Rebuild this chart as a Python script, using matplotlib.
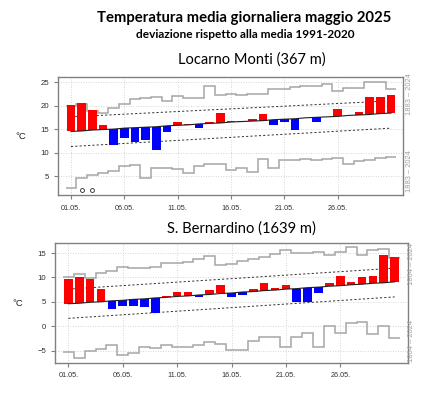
import numpy as np
import matplotlib
matplotlib.use("Agg")
import matplotlib.pyplot as plt

# ---------------- data ----------------
days = list(range(1, 32))
tick_days = [1, 6, 11, 16, 21, 26]
tick_labels = ["01.05.", "06.05.", "11.05.", "16.05.", "21.05.", "26.05."]

title_main = "Temperatura media giornaliera maggio 2025"
title_sub = "deviazione rispetto alla media 1991-2020"

# Locarno Monti
loc_name = "Locarno Monti (367 m)"
loc_period = "1883 – 2024"
loc_temp = [20.2, 20.5, 19.0, 15.8, 11.7, 13.1, 12.2, 12.75, 10.6, 14.3,
            16.4, 16.1, 15.2, 16.6, 18.4, 16.7, 16.75, 17.2, 18.15, 15.8,
            16.5, 14.85, 17.45, 16.5, 17.65, 19.2, 18.0, 18.7, 21.9, 21.9, 22.15]
loc_norm = [14.5, 14.6, 14.8, 14.9, 15.0, 15.2, 15.3, 15.4, 15.5, 15.7,
            15.8, 15.9, 16.1, 16.2, 16.3, 16.5, 16.6, 16.7, 16.8, 17.0,
            17.1, 17.2, 17.4, 17.5, 17.6, 17.7, 17.9, 18.0, 18.1, 18.3, 18.4]
loc_upper = [17.6, 21.0]   # dashed band, day 1 -> day 31
loc_lower = [11.3, 15.2]
loc_rmax = [20.0, 20.3, 18.8, 18.5, 19.5, 20.4, 21.4, 21.65, 21.9, 21.0,
            22.0, 21.7, 21.7, 24.05, 22.2, 22.4, 22.2, 22.4, 22.5, 23.5,
            23.6, 23.9, 24.1, 24.1, 24.5, 23.1, 23.8, 23.8, 25.0, 25.0, 23.5]
loc_rmin = [2.4, 4.7, 5.2, 5.6, 6.1, 7.1, 7.4, 4.7, 6.7, 6.65,
            6.6, 5.6, 7.1, 7.6, 7.6, 6.3, 6.7, 5.95, 8.55, 6.8,
            8.5, 8.5, 8.6, 8.4, 8.6, 8.9, 7.5, 8.2, 8.5, 8.9, 9.0]
loc_circle_days = [2, 3]
loc_circle_vals = [2.0, 2.0]
loc_yticks = [5, 10, 15, 20, 25]
loc_ylim = (1.0, 26.0)

# S. Bernardino
sb_name = "S. Bernardino (1639 m)"
sb_period = "1864 – 2024"
sb_temp = [9.6, 10.1, 9.7, 7.6, 3.5, 4.2, 4.05, 4.0, 2.75, 6.1,
           7.0, 7.0, 6.0, 7.4, 8.4, 5.9, 6.45, 7.6, 8.85, 7.8,
           8.5, 4.95, 4.9, 6.9, 8.9, 10.35, 9.05, 10.15, 10.2, 14.5, 14.1]
sb_norm = [4.6, 4.7, 4.9, 5.0, 5.2, 5.3, 5.5, 5.6, 5.8, 5.9,
           6.1, 6.2, 6.4, 6.5, 6.7, 6.8, 7.0, 7.1, 7.3, 7.4,
           7.6, 7.7, 7.9, 8.0, 8.2, 8.3, 8.5, 8.6, 8.8, 8.9, 9.1]
sb_upper = [7.6, 11.9]
sb_lower = [1.6, 6.0]
sb_rmax = [10.1, 10.8, 9.95, 10.85, 11.3, 12.15, 11.85, 12.0, 12.15, 12.9,
           12.95, 13.25, 13.85, 14.35, 12.6, 12.75, 13.3, 13.8, 14.1, 14.8,
           15.65, 15.1, 15.1, 15.3, 14.6, 15.15, 16.2, 14.6, 15.6, 15.85, 13.9]
sb_rmin = [-5.35, -6.6, -5.15, -4.6, -3.95, -5.85, -5.5, -4.25, -4.55, -3.8,
           -4.3, -4.35, -3.85, -3.35, -3.7, -4.8, -4.8, -3.1, -2.25, -2.3,
           -4.25, -2.2, -1.45, -4.3, 0.0, -1.5, 0.7, 0.95, -1.7, 0.0, -2.35]
sb_yticks = [-5, 0, 5, 10, 15]
sb_ylim = (-7.5, 17.0)

# ---------------- style ----------------
RED = "#ff0000"
BLUE = "#0000ff"
REC = "#a6a6a6"
SPINE = "#808080"
TXT = "#303030"
HEAD_FONT = ["Lato", "DejaVu Sans"]
TICK_FONT = ["Liberation Sans", "DejaVu Sans"]

W, H = 440, 394
fig = plt.figure(figsize=(W / 100, H / 100), dpi=100)


def px_axes(l, t, r, b):
    return fig.add_axes([l / W, 1 - b / H, (r - l) / W, (b - t) / H])


def draw_panel(ax, temp, norm, upper, lower, rmax, rmin, yticks, ylim,
               xlim, period, lab_y, lab_x):
    d = np.array(days, dtype=float)
    edges = np.concatenate([d - 0.5, [d[-1] + 0.5]])
    t = np.array(temp)
    n = np.array(norm)
    ax.set_xlim(*xlim)
    ax.set_ylim(*ylim)
    ax.set_yticks(yticks)
    ax.set_xticks(tick_days)
    ax.set_xticklabels(tick_labels)
    ax.grid(True, color="#c8c8c8", linestyle=(0, (1, 2)), linewidth=0.6)
    ax.set_axisbelow(True)
    ax.stairs(rmax, edges, baseline=None, color=REC, lw=1.1, zorder=1)
    ax.stairs(rmin, edges, baseline=None, color=REC, lw=1.1, zorder=1)
    ax.plot([d[0], d[-1]], upper, color="#303030", lw=0.7,
            linestyle=(0, (2.2, 2.2)), zorder=2)
    ax.plot([d[0], d[-1]], lower, color="#303030", lw=0.7,
            linestyle=(0, (2.2, 2.2)), zorder=2)
    cols = [RED if v >= 0 else BLUE for v in (t - n)]
    ax.bar(d, t - n, bottom=n, width=0.8, color=cols, edgecolor="none",
           zorder=3)
    ax.plot(d, n, color="#202020", lw=0.8, zorder=4)
    for s in ax.spines.values():
        s.set_color(SPINE)
        s.set_linewidth(1.0)
    ax.tick_params(axis="both", colors=SPINE, length=3, width=0.8,
                   labelcolor=TXT)
    ax.tick_params(axis="x", pad=4)
    for lab in ax.get_yticklabels():
        lab.set_fontsize(5.6)
        lab.set_family(TICK_FONT)
    for lab in ax.get_xticklabels():
        lab.set_fontsize(5.2)
        lab.set_family(TICK_FONT)
    ax.set_ylabel("°C", rotation=0, fontsize=6.8, color="#202020",
                  family=TICK_FONT, labelpad=14, va="center")
    for yy in lab_y:
        ax.text(lab_x, yy, period, transform=ax.transAxes, rotation=90,
                fontsize=5.4, color="#a0a0a0", family=TICK_FONT,
                ha="center", va="center")


ax1 = px_axes(58, 77.3, 402.7, 195)
draw_panel(ax1, loc_temp, loc_norm, loc_upper, loc_lower, loc_rmax, loc_rmin,
           loc_yticks, loc_ylim, (-0.22, 32.09), loc_period, [0.86, 0.2], 1.021)
ax1.plot(loc_circle_days, loc_circle_vals, "o", ms=2.8, mfc="none",
         mec="#202020", mew=0.6, zorder=5, clip_on=False)

ax2 = px_axes(55.3, 243.3, 407.7, 362.7)
draw_panel(ax2, sb_temp, sb_norm, sb_upper, sb_lower, sb_rmax, sb_rmin,
           sb_yticks, sb_ylim, (-0.2, 32.2), sb_period, [0.83, 0.18], 1.012)

# headings (fit to measured widths)
heads = [
    (title_main, 244.5, 18, 295, "bold"),
    (title_sub, 245, 35, 220, "bold"),
    (loc_name, 251.5, 60, 147, "normal"),
    (sb_name, 241, 229, 150, "normal"),
]
fig.canvas.draw()
rend = fig.canvas.get_renderer()
for txt, cx, cy, tw, wt in heads:
    t = fig.text(cx / W, 1 - cy / H, txt, ha="center", va="center",
                 fontsize=10, fontweight=wt, family=HEAD_FONT, color="black")
    w = t.get_window_extent(rend).width
    t.set_fontsize(10 * tw / w)

fig.savefig("out.png", dpi=100)
